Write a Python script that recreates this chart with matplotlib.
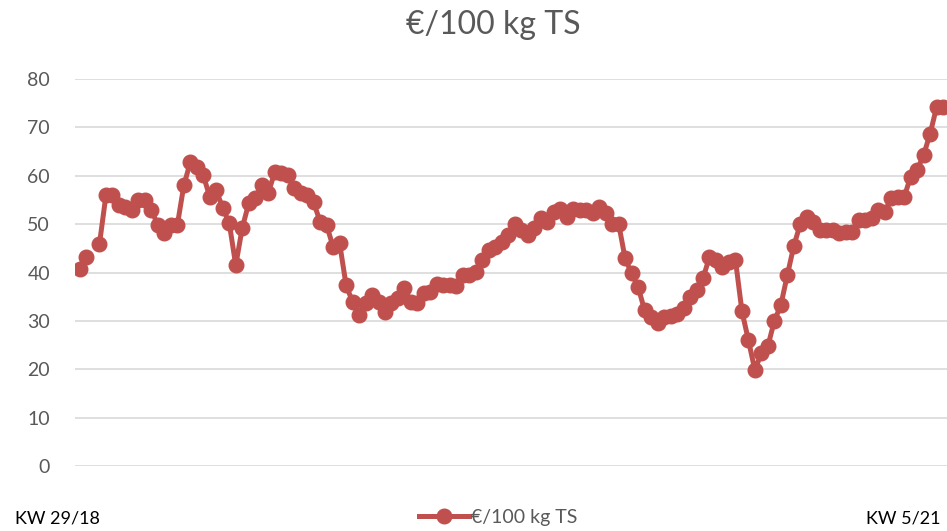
import numpy as np
import matplotlib
matplotlib.use('Agg')
import matplotlib.pyplot as plt

plt.rcParams['font.family'] = ['Lato', 'DejaVu Sans']

# weekly prices KW 29/18 .. KW 5/21 (one value missing in week 31/18)
series_name = '€/100 kg TS'
first_label = 'KW 29/18'
last_label = 'KW 5/21'
values = [
    40.7, 43.2, np.nan, 45.9, 56.0, 56.0, 53.9, 53.5, 53.0, 55.0,
    55.0, 52.9, 49.8, 48.1, 49.8, 49.8, 58.0, 62.8, 61.8, 60.1,
    55.6, 57.0, 53.3, 50.2, 41.5, 49.2, 54.3, 55.4, 58.0, 56.4,
    60.7, 60.5, 60.1, 57.4, 56.4, 56.0, 54.5, 50.5, 49.8, 45.3,
    46.1, 37.4, 33.9, 31.2, 33.6, 35.3, 33.9, 31.9, 33.6, 34.7,
    36.7, 33.9, 33.6, 35.7, 36.0, 37.7, 37.5, 37.5, 37.3, 39.5,
    39.5, 40.1, 42.6, 44.6, 45.3, 46.3, 47.7, 50.1, 48.8, 47.7,
    49.1, 51.2, 50.5, 52.5, 53.2, 51.5, 53.2, 52.9, 52.9, 52.2,
    53.6, 52.2, 50.1, 50.1, 42.9, 39.8, 37.0, 32.2, 30.8, 29.5,
    30.8, 31.0, 31.5, 32.6, 35.0, 36.4, 38.8, 43.2, 42.6, 41.2,
    42.2, 42.6, 32.0, 26.0, 19.8, 23.4, 24.8, 30.0, 33.3, 39.5,
    45.5, 50.1, 51.5, 50.5, 48.8, 48.8, 48.8, 48.1, 48.4, 48.4,
    50.8, 50.8, 51.2, 52.9, 52.5, 55.3, 55.6, 55.6, 59.8, 61.2,
    64.3, 68.7, 74.2, 74.2,
]
y_ticks = [0, 10, 20, 30, 40, 50, 60, 70, 80]

W, H = 947, 531
fig = plt.figure(figsize=(W / 100, H / 100), dpi=100)
ax = fig.add_axes([75 / W, 65 / H, 872 / W, 387 / H])

x = np.arange(len(values))
line, = ax.plot(x, values, color='#C0504D', linewidth=3.6, marker='o',
                markersize=10.5, label=series_name)

ax.set_xlim(-0.77, len(values) - 1 + 0.6)
ax.set_ylim(0, 80)
ax.set_yticks(y_ticks)
ax.set_xticks([])
ax.tick_params(axis='y', length=0, labelsize=14, labelcolor='#595959', pad=18)
ax.grid(axis='y', color='#d9d9d9', linewidth=1.2)
ax.set_axisbelow(True)
for s in ax.spines.values():
    s.set_visible(False)

fig.text(493 / W, 1 - 25 / H, series_name, ha='center', va='center',
         fontsize=23, color='#595959')
fig.text(15 / W, 1 - 518 / H, first_label, ha='left', va='center',
         fontsize=13, color='black')
fig.text(940 / W, 1 - 518 / H, last_label, ha='right', va='center',
         fontsize=13, color='black')
fig.legend(handles=[line], loc='center', bbox_to_anchor=(498 / W, 1 - 517 / H),
           frameon=False, fontsize=14, handlelength=2.6, handletextpad=0.1,
           labelcolor='#595959')

fig.savefig('out.png', dpi=100)
